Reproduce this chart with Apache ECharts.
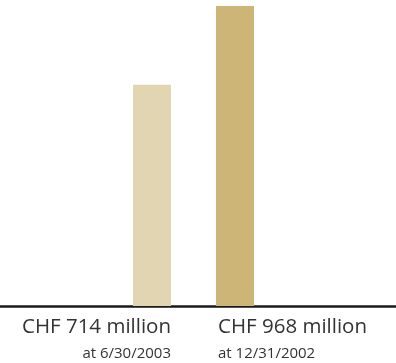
<!DOCTYPE html>
<html>
<head>
<meta charset="utf-8">
<script src="https://cdn.jsdelivr.net/npm/echarts@6/dist/echarts.min.js"></script>
<style>
  html, body { margin: 0; padding: 0; background: #fff; }
  #chart { width: 396px; height: 363px; }
</style>
</head>
<body>
<div id="chart"></div>
<script>
// Totals in CHF million and the reporting dates they refer to
var categories = ['6/30/2003', '12/31/2002'];
var values = [714, 968];
var barColors = ['#e2d5b1', '#ccb577'];

var FONT = '"Open Sans", sans-serif';
var TEXT = '#333333';

var seriesData = values.map(function (v, i) {
  var first = i === 0;
  var side = first ? 'right' : 'left';
  return {
    value: v,
    itemStyle: { color: barColors[i] },
    label: {
      show: true,
      position: first ? ['100%', '100%'] : [0, '100%'],
      align: side,
      verticalAlign: 'top',
      offset: [first ? 0 : 2, 9],
      formatter: function () {
        return '{a|CHF ' + v + ' million}\n{b|at ' + categories[i] + '}';
      },
      rich: {
        a: { fontFamily: FONT, fontSize: 20.5, lineHeight: 24, color: TEXT, align: side },
        b: { fontFamily: FONT, fontSize: 15, lineHeight: 29, color: TEXT, align: side }
      }
    }
  };
});

var chart = echarts.init(document.getElementById('chart'), null, { renderer: 'canvas' });
chart.setOption({
  animation: false,
  grid: [
    { left: 110.5, width: 166, top: 6, bottom: 57 },
    { left: 0, right: 0, top: 6, bottom: 57 }
  ],
  xAxis: [
    {
      type: 'category', gridIndex: 0, data: categories,
      axisLine: { show: false }, axisTick: { show: false }, axisLabel: { show: false }
    },
    {
      type: 'value', gridIndex: 1, min: 0, max: 1,
      axisLine: { show: true, lineStyle: { color: '#1a1a1a', width: 2.5 } },
      axisTick: { show: false }, axisLabel: { show: false }, splitLine: { show: false }
    }
  ],
  yAxis: [
    { type: 'value', gridIndex: 0, min: 0, max: function (e) { return e.max; }, show: false, splitLine: { show: false } },
    { type: 'value', gridIndex: 1, min: 0, max: 1, show: false, splitLine: { show: false } }
  ],
  series: [{
    type: 'bar',
    xAxisIndex: 0, yAxisIndex: 0,
    barWidth: 38,
    data: seriesData
  }]
});
</script>
</body>
</html>
